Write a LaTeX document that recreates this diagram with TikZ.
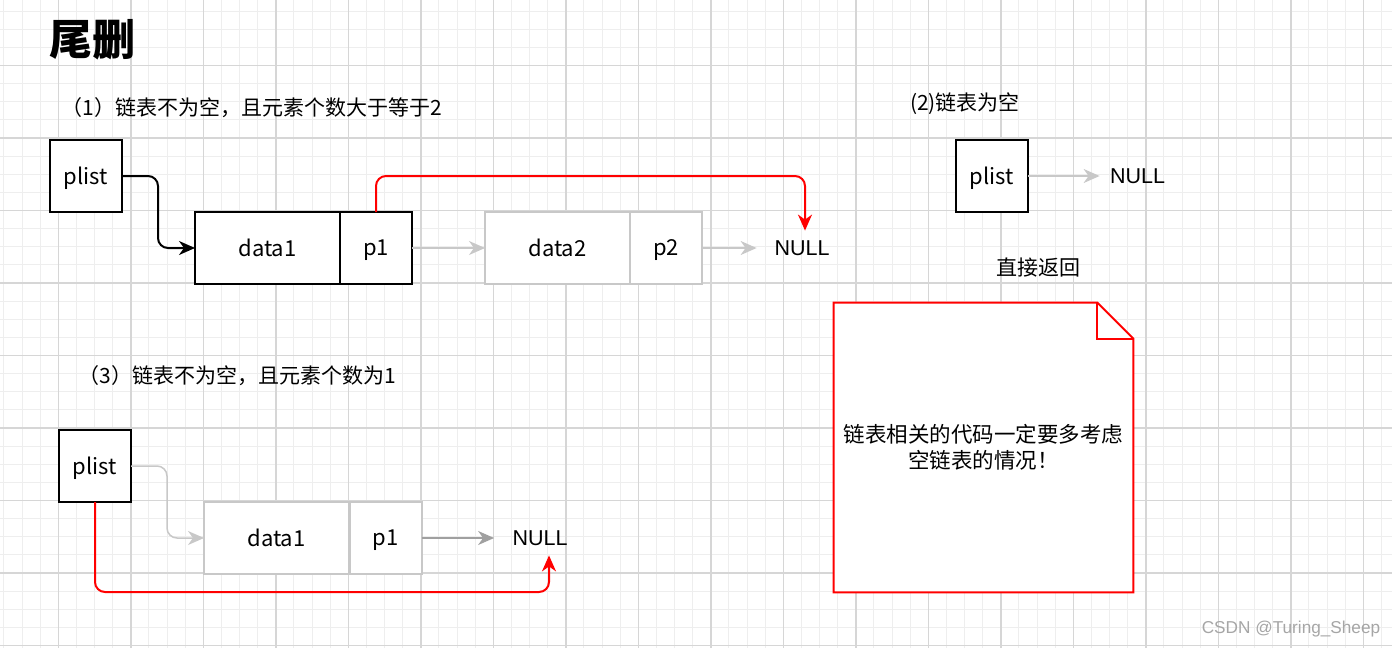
\documentclass[tikz,border=0pt]{standalone}
\usepackage{fontspec}
\setmainfont{Noto Sans CJK SC}
\newfontfamily\arialf{Liberation Sans}
\usetikzlibrary{arrows.meta,calc}
\definecolor{lgrey}{HTML}{C8C8C8}
\definecolor{mgrey}{HTML}{A0A0A0}
\definecolor{gmajor}{HTML}{D6D6D6}
\definecolor{gminor}{HTML}{EEEEEE}
\definecolor{dred}{HTML}{FF0000}
\pgfdeclarelayer{gridlayer}
\pgfdeclarelayer{notelayer}
\pgfsetlayers{gridlayer,notelayer,main}
\begin{document}
\begin{tikzpicture}[x=0.5pt,y=-0.5pt,
  cell/.style={draw=black,fill=white,line width=1pt,minimum height=36pt,inner sep=0pt,outer sep=0pt,font=\fontsize{11}{13}\selectfont,text depth=0.5pt},
  sq/.style={cell,minimum width=36pt},
  wide/.style={cell,minimum width=72.5pt},
  faded/.style={draw=lgrey},
  nulltxt/.style={font=\arialf\fontsize{10.75}{12}\selectfont,inner sep=0pt,minimum height=17pt},
  captxt/.style={font=\fontsize{10.5}{13}\selectfont,inner sep=0pt},
  arrowtip/.style={-{Stealth[length=8pt,width=7pt,inset=2.5pt]}},
  blk/.style={arrowtip,draw=black,line width=1pt,rounded corners=5pt},
  redc/.style={arrowtip,draw=dred,line width=1pt,rounded corners=5pt},
  lgc/.style={arrowtip,draw=lgrey,line width=0.75pt,rounded corners=5pt},
  mgc/.style={arrowtip,draw=mgrey,line width=0.75pt},
  notebox/.style={align=center,inner sep=0pt,minimum width=149.5pt,minimum height=144.5pt,font=\fontsize{10.75}{13}\selectfont},
]
\useasboundingbox (0,0) rectangle (1392,648);
% background grid
\begin{pgfonlayer}{gridlayer}
\fill[white] (0,0) rectangle (1392,648);
\begin{scope}
\clip (0,0) rectangle (1392,648);
\foreach \i in {-4,...,77} {\draw[gminor,line width=0.55pt] ({58.3+\i*18.125},0) -- ++(0,648);}
\foreach \j in {-4,...,34} {\draw[gminor,line width=0.55pt] (0,{65.5+\j*18.125}) -- ++(1392,0);}
\foreach \i in {-1,...,19} {\draw[gmajor,line width=0.75pt] ({58.3+\i*72.5},0) -- ++(0,648);}
\foreach \j in {-1,...,9} {\draw[gmajor,line width=0.75pt] (0,{65.5+\j*72.5}) -- ++(1392,0);}
\end{scope}
\end{pgfonlayer}

% title and captions
\node[font=\bfseries\fontsize{21.5}{24}\selectfont,inner sep=0pt] (title) at (92,40) {尾删};
\node[captxt] (cap1) at (252,108) {（1）链表不为空，且元素个数大于等于2};
\node[captxt] (cap2) at (965,104) {(2)链表为空};
\node[captxt] (cap3) at (237,376) {（3）链表不为空，且元素个数为1};
\node[captxt] (direct) at (1038,268) {直接返回};

% case 1
\node[sq] (plist1) at (86,176) {plist};
\node[wide] (data1a) at (267.5,248) {data1};
\node[sq] (p1a) at (376,248) {p1};
\node[wide,faded] (data2) at (557.5,248) {data2};
\node[sq,faded] (p2) at (666,248) {p2};
\node[nulltxt] (null1) at (802,248) {NULL};
\draw[blk] (plist1.east) -- ++(36,0) |- (data1a.west);
\draw[lgc] (p1a.east) -- (data2.west);
\draw[lgc,shorten >=8.75pt] (p2.east) -- (null1.west);
\draw[redc] (p1a.north) -- ++(0,-36) -| ([xshift=1.5pt]null1.north);

% case 2
\node[sq] (plist2) at (992,176) {plist};
\node[nulltxt] (null2) at (1137.5,176) {NULL};
\draw[lgc,shorten >=5pt] (plist2.east) -- (null2.west);

% case 3
\node[sq] (plist3) at (95,466) {plist};
\node[wide,faded] (data1c) at (276.5,538) {data1};
\node[sq,faded] (p1c) at (385.5,538) {p1};
\node[nulltxt] (null3) at (540,538) {NULL};
\draw[lgc] (plist3.east) -- ++(36,0) |- (data1c.west);
\draw[mgc,shorten >=9pt] (p1c.east) -- (null3.west);
\draw[redc] (plist3.south) -- ++(0,90) -| ([xshift=4.5pt]null3.south);

% note
\node[notebox] (note) at (983.5,447.5) {链表相关的代码一定要多考虑\\空链表的情况！};
\begin{pgfonlayer}{notelayer}
\draw[dred,line width=1pt,fill=white,line join=miter]
  (note.north west) -- ([xshift=-18pt]note.north east) -- ([yshift=-18pt]note.north east)
  -- (note.south east) -- (note.south west) -- cycle;
\draw[dred,line width=1pt] ([xshift=-18pt]note.north east) |- ([yshift=-18pt]note.north east);
\end{pgfonlayer}

% watermark
\node[font=\arialf\fontsize{8.6}{10}\selectfont,text=gray!70,inner sep=0pt] (wm) at (1291,629) {CSDN @Turing\_Sheep};
\end{tikzpicture}
\end{document}
